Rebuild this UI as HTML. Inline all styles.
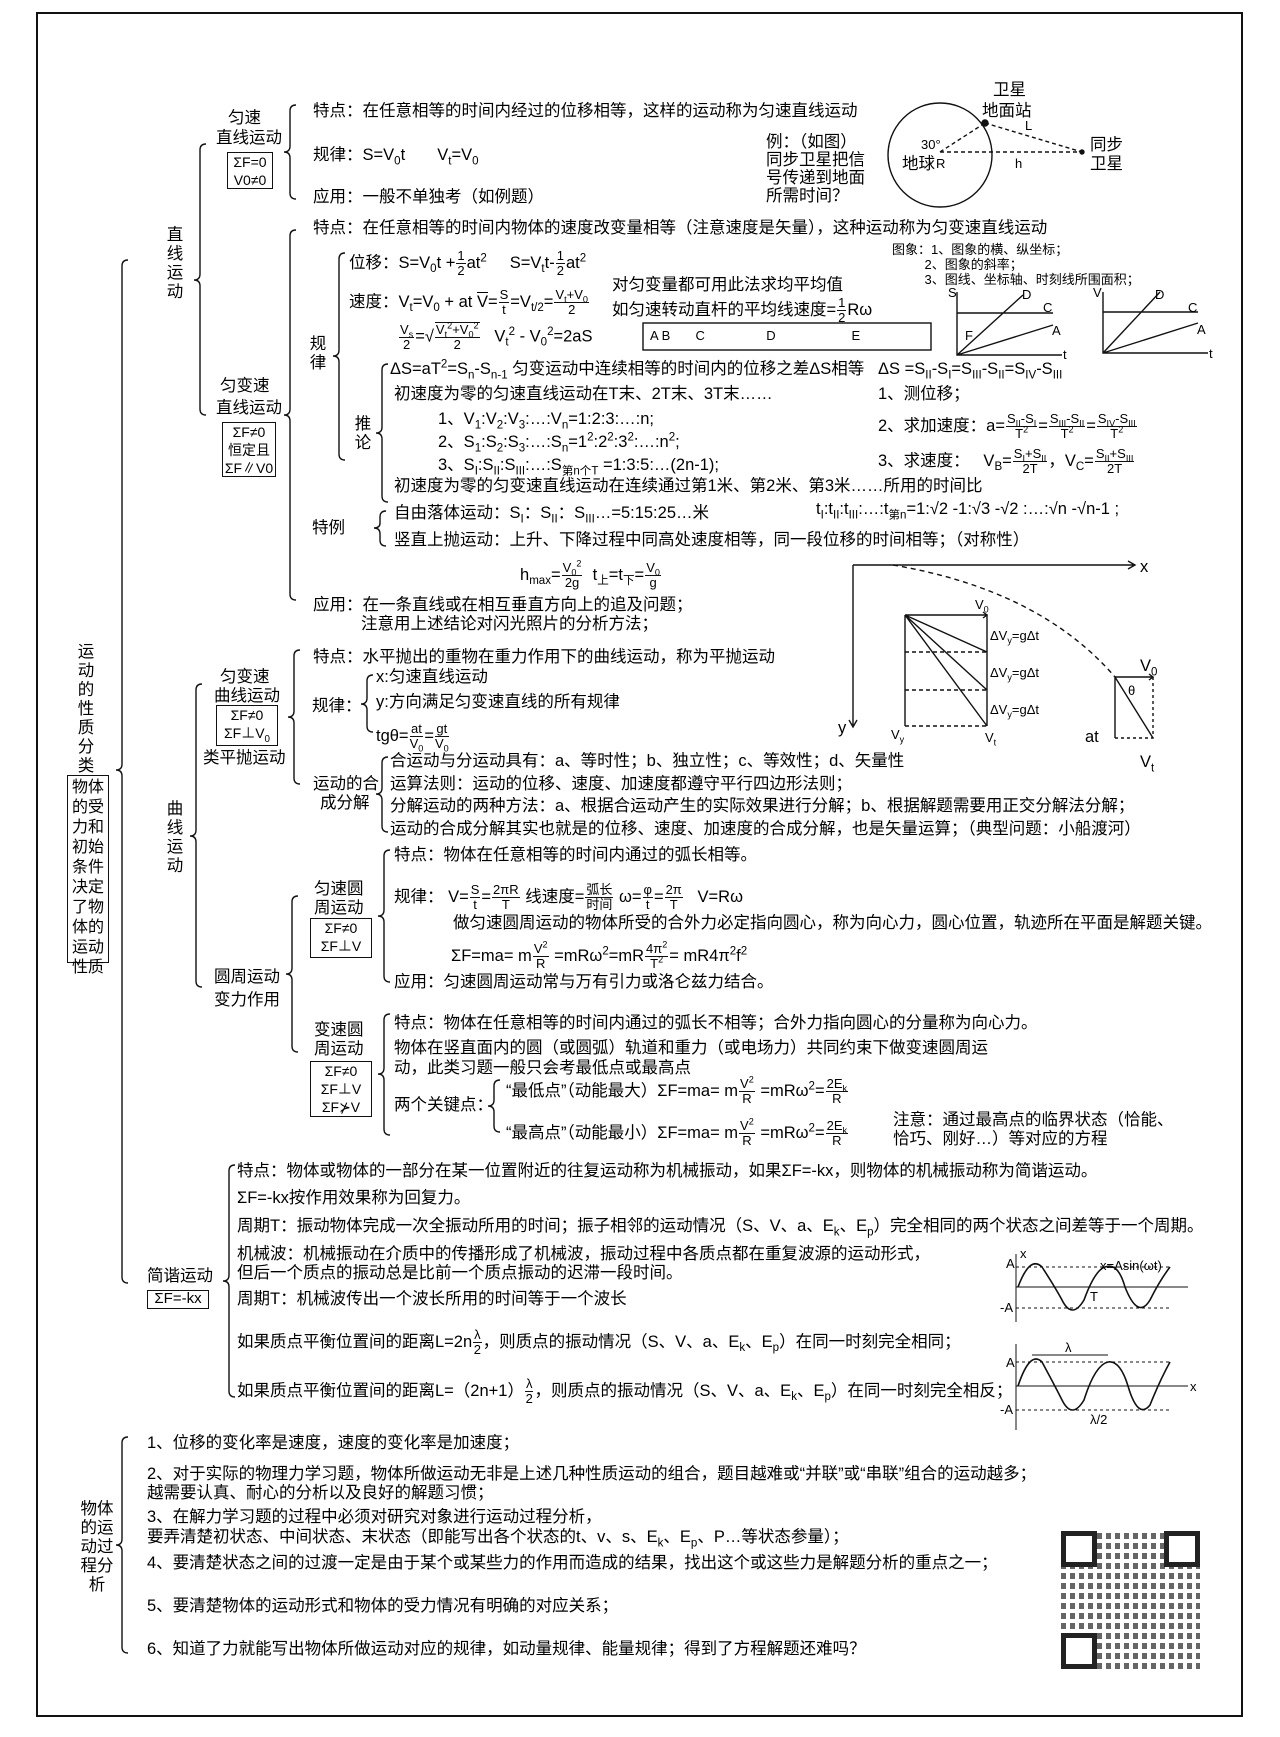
<!DOCTYPE html>
<html><head><meta charset="utf-8">
<style>
html,body{margin:0;padding:0;background:#fff;}
#p{position:relative;width:1280px;height:1737px;overflow:hidden;background:#fff;font-family:"Liberation Sans","Noto Sans CJK SC",sans-serif;color:#000;}
.t{position:absolute;white-space:nowrap;font-size:16.5px;line-height:20px;}
.s{font-size:13px;line-height:16px;}
sup,sub{line-height:0;font-size:70%;}
.v{position:absolute;font-size:16.5px;line-height:19px;width:18px;text-align:center;}
.box{position:absolute;border:1.5px solid #111;font-size:14px;line-height:18px;text-align:center;box-sizing:border-box;}
.fr{display:inline-flex;flex-direction:column;vertical-align:middle;text-align:center;font-size:13px;line-height:14px;margin:0 1px;}
.fr>span:first-child{border-bottom:1px solid #111;padding:0 1px;}
svg{position:absolute;left:0;top:0;}
</style></head><body><div id="p">
<svg width="1280" height="1737" fill="none" stroke="#111" stroke-width="1.4">
<path d="M37,13 H1242 V1716 H37 Z" stroke-width="2"/>
<g>
<path d="M128,260 Q122,260 122,266 L122,764 Q122,770 116,770 Q122,770 122,776 L122,1277 Q122,1283 128,1283"/>
<path d="M206,144 Q200,144 200,150 L200,274 Q200,280 194,280 Q200,280 200,286 L200,409 Q200,415 206,415"/>
<path d="M296,105 Q290,105 290,111 L290,146 Q290,152 284,152 Q290,152 290,158 L290,193 Q290,199 296,199"/>
<path d="M296,230 Q290,230 290,236 L290,409 Q290,415 284,415 Q290,415 290,421 L290,594 Q290,600 296,600"/>
<path d="M345,253 Q339,253 339,259 L339,350 Q339,356 333,356 Q339,356 339,362 L339,454 Q339,460 345,460"/>
<path d="M388,364 Q382,364 382,370 L382,427 Q382,433 376,433 Q382,433 382,439 L382,496 Q382,502 388,502"/>
<path d="M386,511 Q380,511 380,517 L380,523 Q380,528 374,528 Q380,528 380,534 L380,540 Q380,546 386,546"/>
<path d="M202,684 Q196,684 196,690 L196,830 Q196,836 190,836 Q196,836 196,842 L196,981 Q196,987 202,987"/>
<path d="M300,650 Q294,650 294,656 L294,711 Q294,717 288,717 Q294,717 294,723 L294,778 Q294,784 300,784"/>
<path d="M373,675 Q367,675 367,681 L367,698 Q367,704 361,704 Q367,704 367,710 L367,726 Q367,732 373,732"/>
<path d="M388,757 Q382,757 382,763 L382,788 Q382,794 376,794 Q382,794 382,800 L382,826 Q382,832 388,832"/>
<path d="M298,896 Q292,896 292,902 L292,968 Q292,974 286,974 Q292,974 292,980 L292,1046 Q292,1052 298,1052"/>
<path d="M390,850 Q384,850 384,856 L384,910 Q384,916 378,916 Q384,916 384,922 L384,976 Q384,982 390,982"/>
<path d="M390,1014 Q384,1014 384,1020 L384,1068 Q384,1074 378,1074 Q384,1074 384,1080 L384,1129 Q384,1135 390,1135"/>
<path d="M500,1080 Q494,1080 494,1086 L494,1100 Q494,1106 488,1106 Q494,1106 494,1112 L494,1126 Q494,1132 500,1132"/>
<path d="M235,1165 Q229,1165 229,1171 L229,1275 Q229,1281 223,1281 Q229,1281 229,1287 L229,1391 Q229,1397 235,1397"/>
<path d="M128,1437 Q122,1437 122,1443 L122,1539 Q122,1545 116,1545 Q122,1545 122,1551 L122,1647 Q122,1653 128,1653"/>
</g>
<circle cx="940" cy="155" r="52"/>
<path d="M940,152 H1082 M985,123 L1082,152 M940,152 L985,123" stroke-dasharray="4,3"/>
<circle cx="985" cy="123" r="3" fill="#111"/><circle cx="1082" cy="152" r="2" fill="#111"/>
<path d="M957,292 V355 H1062 M957,313 H1053 M957,355 L1023,295 M957,355 L1053,325"/>
<path d="M1103,292 V353 H1208 M1103,312 H1198 M1103,353 L1160,292 M1103,353 L1198,323"/>
<rect x="643" y="323" width="288" height="27"/>
<path d="M853,565 H1135 M1128,561 L1135,565 L1128,569 M853,565 V727 M849,720 L853,727 L857,720"/>
<path d="M893,565 Q1040,590 1115,677" stroke-dasharray="5,4"/>
<path d="M905,615 H987 V726 M905,615 V726 M905,615 L987,652 M905,615 L987,690 M905,615 L987,726 M983,612 L987,615 L983,618"/>
<path d="M905,652 H987 M905,690 H987 M905,726 H987" stroke-dasharray="4,3"/>
<path d="M1115,677 H1153 M1115,677 V738 M1115,677 L1153,738 M1149,674 L1153,677 L1149,680"/>
<path d="M1153,677 V738 H1115" stroke-dasharray="3,3"/>
<path d="M1016,1254 V1322 M1016,1287 H1188" stroke-width="1"/>
<path d="M1016,1267 H1170 M1016,1308 H1170" stroke-dasharray="3,3" stroke-width="1"/>
<path d="M1018,1287 Q1030,1255 1042,1267 Q1055,1287 1062,1300 Q1072,1320 1084,1300 Q1095,1270 1105,1267 Q1118,1262 1125,1287 Q1138,1320 1150,1300 Q1160,1280 1170,1267" stroke-width="1.6"/>
<path d="M1016,1344 V1430 M1016,1386 H1188 M1032,1355 H1108" stroke-width="1"/>
<path d="M1016,1362 H1170 M1016,1410 H1170" stroke-dasharray="3,3" stroke-width="1"/>
<path d="M1018,1386 Q1030,1350 1042,1362 Q1055,1386 1062,1400 Q1072,1420 1084,1400 Q1095,1365 1108,1362 Q1120,1360 1128,1386 Q1138,1420 1150,1405 Q1160,1380 1170,1362" stroke-width="1.6"/>
</svg>

<div style="position:absolute;left:1061px;top:1531px;width:139px;height:138px;background:repeating-linear-gradient(90deg,#333 0 5px,#fff 5px 9px),#fff;opacity:.75"></div>
<div style="position:absolute;left:1061px;top:1531px;width:139px;height:138px;background:repeating-linear-gradient(0deg,transparent 0 6px,#fff 6px 10px)"></div>
<div style="position:absolute;left:1061px;top:1531px;width:26px;height:26px;border:5px solid #222;background:#fff"></div>
<div style="position:absolute;left:1164px;top:1531px;width:26px;height:26px;border:5px solid #222;background:#fff"></div>
<div style="position:absolute;left:1061px;top:1633px;width:26px;height:26px;border:5px solid #222;background:#fff"></div>

<div class="v" style="left:77px;top:643px">运动的性质分类</div>
<div class="box" style="left:67px;top:775px;width:42px;height:188px;font-size:16px;line-height:20px;padding-top:2px">物体的受力和初始条件决定了物体的运动性质</div>
<div class="v" style="left:166px;top:226px">直线运动</div>
<div class="v" style="left:166px;top:800px">曲线运动</div>
<div class="v" style="left:79px;top:1500px;width:36px;line-height:19px">物体的运动过程分析</div>

<div class="t" style="left:228px;top:108px">匀速</div>
<div class="t" style="left:216px;top:128px">直线运动</div>
<div class="box" style="left:227px;top:152px;width:46px;height:37px">ΣF=0<br>V0≠0</div>
<div class="t" style="left:220px;top:376px">匀变速</div>
<div class="t" style="left:216px;top:398px">直线运动</div>
<div class="box" style="left:222px;top:422px;width:54px;height:55px">ΣF≠0<br>恒定且<br>ΣF∥V0</div>
<div class="v" style="left:309px;top:335px">规律</div>
<div class="v" style="left:354px;top:415px">推论</div>
<div class="t" style="left:312px;top:518px">特例</div>

<div class="t" style="left:220px;top:667px">匀变速</div>
<div class="t" style="left:214px;top:686px">曲线运动</div>
<div class="box" style="left:216px;top:705px;width:62px;height:41px">ΣF≠0<br>ΣF⊥V<sub>0</sub></div>
<div class="t" style="left:203px;top:748px">类平抛运动</div>
<div class="t" style="left:312px;top:696px">规律：</div>
<div class="t" style="left:313px;top:774px">运动的合</div>
<div class="t" style="left:320px;top:793px">成分解</div>
<div class="t" style="left:214px;top:967px">圆周运动</div>
<div class="t" style="left:214px;top:990px">变力作用</div>
<div class="t" style="left:314px;top:879px">匀速圆</div>
<div class="t" style="left:314px;top:898px">周运动</div>
<div class="box" style="left:310px;top:918px;width:62px;height:40px">ΣF≠0<br>ΣF⊥V</div>
<div class="t" style="left:314px;top:1020px">变速圆</div>
<div class="t" style="left:314px;top:1039px">周运动</div>
<div class="box" style="left:310px;top:1061px;width:62px;height:56px">ΣF≠0<br>ΣF⊥V<br>ΣF⊁V</div>
<div class="t" style="left:147px;top:1266px">简谐运动</div>
<div class="box" style="left:147px;top:1290px;width:62px;height:19px;font-size:15px;line-height:16px">ΣF=-kx</div>

<div class="t" style="left:313px;top:101px">特点：在任意相等的时间内经过的位移相等，这样的运动称为匀速直线运动</div>
<div class="t" style="left:313px;top:145px">规律：S=V<sub>0</sub>t &nbsp; &nbsp; &nbsp; V<sub>t</sub>=V<sub>0</sub></div>
<div class="t" style="left:313px;top:187px">应用：一般不单独考（如例题）</div>
<div class="t" style="left:766px;top:133px;line-height:18px">例：（如图）<br>同步卫星把信<br>号传递到地面<br>所需时间？</div>
<div class="t" style="left:993px;top:80px">卫星</div>
<div class="t" style="left:982px;top:101px">地面站</div>
<div class="t s" style="left:1025px;top:118px">L</div>
<div class="t s" style="left:921px;top:137px">30°</div>
<div class="t" style="left:902px;top:154px">地球</div>
<div class="t s" style="left:936px;top:156px">R</div>
<div class="t s" style="left:1015px;top:156px">h</div>
<div class="t" style="left:1090px;top:136px;line-height:19px">同步<br>卫星</div>

<div class="t" style="left:313px;top:218px">特点：在任意相等的时间内物体的速度改变量相等（注意速度是矢量），这种运动称为匀变速直线运动</div>
<div class="t s" style="left:892px;top:242px;line-height:15px">图象：1、图象的横、纵坐标；<br>&nbsp; &nbsp; &nbsp; &nbsp; &nbsp;2、图象的斜率；<br>&nbsp; &nbsp; &nbsp; &nbsp; &nbsp;3、图线、坐标轴、时刻线所围面积；</div>
<div class="t s" style="left:948px;top:285px">S</div><div class="t s" style="left:1022px;top:287px">D</div><div class="t s" style="left:1043px;top:300px">C</div><div class="t s" style="left:1052px;top:323px">A</div><div class="t s" style="left:1063px;top:347px">t</div>
<div class="t s" style="left:1093px;top:285px">V</div><div class="t s" style="left:1155px;top:287px">D</div><div class="t s" style="left:1188px;top:300px">C</div><div class="t s" style="left:1197px;top:322px">A</div><div class="t s" style="left:1209px;top:346px">t</div>
<div class="t" style="left:349px;top:249px">位移：S=V<sub>0</sub>t +<span class="fr"><span>1</span><span>2</span></span>at<sup>2</sup> &nbsp; &nbsp; S=V<sub>t</sub>t-<span class="fr"><span>1</span><span>2</span></span>at<sup>2</sup></div>
<div class="t" style="left:349px;top:288px">速度：V<sub>t</sub>=V<sub>0</sub> + at <span style="text-decoration:overline">V</span>=<span class="fr"><span>S</span><span>t</span></span>=V<sub>t/2</sub>=<span class="fr"><span>V<sub>t</sub>+V<sub>0</sub></span><span>2</span></span></div>
<div class="t" style="left:612px;top:275px;line-height:21px">对匀变量都可用此法求均平均值<br>如匀速转动直杆的平均线速度=<span class="fr"><span>1</span><span>2</span></span>Rω</div>
<div class="t" style="left:398px;top:322px"><span class="fr"><span>V<sub>s</sub></span><span>2</span></span>=√<span class="fr" style="border-top:1px solid #111"><span>V<sub>t</sub><sup>2</sup>+V<sub>0</sub><sup>2</sup></span><span>2</span></span> &nbsp; V<sub>t</sub><sup>2</sup> - V<sub>0</sub><sup>2</sup>=2aS</div>
<div class="t s" style="left:650px;top:328px">A B &nbsp; &nbsp; &nbsp; C &nbsp; &nbsp; &nbsp; &nbsp; &nbsp; &nbsp; &nbsp; &nbsp; D &nbsp; &nbsp; &nbsp; &nbsp; &nbsp; &nbsp; &nbsp; &nbsp; &nbsp; &nbsp; E &nbsp; &nbsp; &nbsp; &nbsp; &nbsp; &nbsp; &nbsp; &nbsp; &nbsp; &nbsp; &nbsp; &nbsp; &nbsp; &nbsp; F</div>
<div class="t" style="left:390px;top:359px">ΔS=aT<sup>2</sup>=S<sub>n</sub>-S<sub>n-1</sub> 匀变运动中连续相等的时间内的位移之差ΔS相等</div>
<div class="t" style="left:878px;top:359px">ΔS =S<sub>II</sub>-S<sub>I</sub>=S<sub>III</sub>-S<sub>II</sub>=S<sub>IV</sub>-S<sub>III</sub></div>
<div class="t" style="left:394px;top:384px">初速度为零的匀速直线运动在T末、2T末、3T末……</div>
<div class="t" style="left:438px;top:409px">1、V<sub>1</sub>:V<sub>2</sub>:V<sub>3</sub>:…:V<sub>n</sub>=1:2:3:…:n;</div>
<div class="t" style="left:438px;top:432px">2、S<sub>1</sub>:S<sub>2</sub>:S<sub>3</sub>:…:S<sub>n</sub>=1<sup>2</sup>:2<sup>2</sup>:3<sup>2</sup>:…:n<sup>2</sup>;</div>
<div class="t" style="left:438px;top:455px">3、S<sub>I</sub>:S<sub>II</sub>:S<sub>III</sub>:…:S<sub>第n个T</sub> =1:3:5:…(2n-1);</div>
<div class="t" style="left:394px;top:476px">初速度为零的匀变速直线运动在连续通过第1米、第2米、第3米……所用的时间比</div>
<div class="t" style="left:878px;top:384px">1、测位移；</div>
<div class="t" style="left:878px;top:412px">2、求加速度：a=<span class="fr"><span>S<sub>II</sub>-S<sub>I</sub></span><span>T<sup>2</sup></span></span>=<span class="fr"><span>S<sub>III</sub>-S<sub>II</sub></span><span>T<sup>2</sup></span></span>=<span class="fr"><span>S<sub>IV</sub>-S<sub>III</sub></span><span>T<sup>2</sup></span></span></div>
<div class="t" style="left:878px;top:447px">3、求速度： &nbsp; V<sub>B</sub>=<span class="fr"><span>S<sub>I</sub>+S<sub>II</sub></span><span>2T</span></span>，V<sub>C</sub>=<span class="fr"><span>S<sub>II</sub>+S<sub>III</sub></span><span>2T</span></span></div>
<div class="t" style="left:394px;top:503px">自由落体运动：S<sub>I</sub>：S<sub>II</sub>：S<sub>III</sub>…=5:15:25…米</div>
<div class="t" style="left:816px;top:499px">t<sub>I</sub>:t<sub>II</sub>:t<sub>III</sub>:…:t<sub>第n</sub>=1:√2 -1:√3 -√2 :…:√n -√n-1 ;</div>
<div class="t" style="left:394px;top:530px">竖直上抛运动：上升、下降过程中同高处速度相等，同一段位移的时间相等；（对称性）</div>
<div class="t" style="left:520px;top:561px">h<sub>max</sub>=<span class="fr"><span>V<sub>0</sub><sup>2</sup></span><span>2g</span></span> &nbsp;t<sub>上</sub>=t<sub>下</sub>=<span class="fr"><span>V<sub>0</sub></span><span>g</span></span></div>
<div class="t" style="left:313px;top:595px">应用：在一条直线或在相互垂直方向上的追及问题；</div>
<div class="t" style="left:361px;top:614px">注意用上述结论对闪光照片的分析方法；</div>

<div class="t" style="left:1140px;top:557px">x</div>
<div class="t s" style="left:975px;top:597px">V<sub>0</sub></div>
<div class="t s" style="left:990px;top:628px">ΔV<sub>y</sub>=gΔt</div>
<div class="t s" style="left:990px;top:665px">ΔV<sub>y</sub>=gΔt</div>
<div class="t s" style="left:990px;top:702px">ΔV<sub>y</sub>=gΔt</div>
<div class="t" style="left:838px;top:718px">y</div>
<div class="t s" style="left:891px;top:727px">V<sub>y</sub></div>
<div class="t s" style="left:985px;top:730px">V<sub>t</sub></div>
<div class="t" style="left:1140px;top:656px">V<sub>0</sub></div>
<div class="t s" style="left:1128px;top:683px">θ</div>
<div class="t" style="left:1085px;top:727px">at</div>
<div class="t" style="left:1140px;top:752px">V<sub>t</sub></div>

<div class="t" style="left:313px;top:647px">特点：水平抛出的重物在重力作用下的曲线运动，称为平抛运动</div>
<div class="t" style="left:376px;top:667px">x:匀速直线运动</div>
<div class="t" style="left:376px;top:692px">y:方向满足匀变速直线的所有规律</div>
<div class="t" style="left:376px;top:722px">tgθ=<span class="fr"><span>at</span><span>V<sub>0</sub></span></span>=<span class="fr"><span>gt</span><span>V<sub>0</sub></span></span></div>
<div class="t" style="left:390px;top:751px">合运动与分运动具有：a、等时性；b、独立性；c、等效性；d、矢量性</div>
<div class="t" style="left:390px;top:774px">运算法则：运动的位移、速度、加速度都遵守平行四边形法则；</div>
<div class="t" style="left:390px;top:796px">分解运动的两种方法：a、根据合运动产生的实际效果进行分解；b、根据解题需要用正交分解法分解；</div>
<div class="t" style="left:390px;top:819px">运动的合成分解其实也就是的位移、速度、加速度的合成分解，也是矢量运算；（典型问题：小船渡河）</div>

<div class="t" style="left:394px;top:845px">特点：物体在任意相等的时间内通过的弧长相等。</div>
<div class="t" style="left:394px;top:883px">规律： V=<span class="fr"><span>S</span><span>t</span></span>=<span class="fr"><span>2πR</span><span>T</span></span> 线速度=<span class="fr"><span>弧长</span><span>时间</span></span> ω=<span class="fr"><span>φ</span><span>t</span></span>=<span class="fr"><span>2π</span><span>T</span></span> &nbsp; V=Rω</div>
<div class="t" style="left:453px;top:913px">做匀速圆周运动的物体所受的合外力必定指向圆心，称为向心力，圆心位置，轨迹所在平面是解题关键。</div>
<div class="t" style="left:451px;top:942px">ΣF=ma= m<span class="fr"><span>V<sup>2</sup></span><span>R</span></span> =mRω<sup>2</sup>=mR<span class="fr"><span>4π<sup>2</sup></span><span>T<sup>2</sup></span></span>= mR4π<sup>2</sup>f<sup>2</sup></div>
<div class="t" style="left:394px;top:972px">应用：匀速圆周运动常与万有引力或洛仑兹力结合。</div>
<div class="t" style="left:394px;top:1013px">特点：物体在任意相等的时间内通过的弧长不相等；合外力指向圆心的分量称为向心力。</div>
<div class="t" style="left:394px;top:1038px">物体在竖直面内的圆（或圆弧）轨道和重力（或电场力）共同约束下做变速圆周运</div>
<div class="t" style="left:394px;top:1058px">动，此类习题一般只会考最低点或最高点</div>
<div class="t" style="left:394px;top:1095px">两个关键点：</div>
<div class="t" style="left:506px;top:1077px">“最低点”（动能最大）ΣF=ma= m<span class="fr"><span>V<sup>2</sup></span><span>R</span></span> =mRω<sup>2</sup>=<span class="fr"><span>2E<sub>k</sub></span><span>R</span></span></div>
<div class="t" style="left:506px;top:1119px">“最高点”（动能最小）ΣF=ma= m<span class="fr"><span>V<sup>2</sup></span><span>R</span></span> =mRω<sup>2</sup>=<span class="fr"><span>2E<sub>k</sub></span><span>R</span></span></div>
<div class="t" style="left:893px;top:1111px;line-height:19px">注意：通过最高点的临界状态（恰能、<br>恰巧、刚好…）等对应的方程</div>

<div class="t" style="left:237px;top:1161px">特点：物体或物体的一部分在某一位置附近的往复运动称为机械振动，如果ΣF=-kx，则物体的机械振动称为简谐运动。</div>
<div class="t" style="left:237px;top:1188px">ΣF=-kx按作用效果称为回复力。</div>
<div class="t" style="left:237px;top:1216px">周期T：振动物体完成一次全振动所用的时间；振子相邻的运动情况（S、V、a、E<sub>k</sub>、E<sub>p</sub>）完全相同的两个状态之间差等于一个周期。</div>
<div class="t" style="left:237px;top:1244px">机械波：机械振动在介质中的传播形成了机械波，振动过程中各质点都在重复波源的运动形式，</div>
<div class="t" style="left:237px;top:1263px">但后一个质点的振动总是比前一个质点振动的迟滞一段时间。</div>
<div class="t" style="left:237px;top:1289px">周期T：机械波传出一个波长所用的时间等于一个波长</div>
<div class="t" style="left:237px;top:1328px">如果质点平衡位置间的距离L=2n<span class="fr"><span>λ</span><span>2</span></span>，则质点的振动情况（S、V、a、E<sub>k</sub>、E<sub>p</sub>）在同一时刻完全相同；</div>
<div class="t" style="left:237px;top:1377px">如果质点平衡位置间的距离L=（2n+1）<span class="fr"><span>λ</span><span>2</span></span>，则质点的振动情况（S、V、a、E<sub>k</sub>、E<sub>p</sub>）在同一时刻完全相反；</div>
<div class="t s" style="left:1006px;top:1256px">A</div><div class="t s" style="left:1000px;top:1300px">-A</div><div class="t s" style="left:1100px;top:1258px">x=Asin(ωt)</div><div class="t s" style="left:1090px;top:1289px">T</div><div class="t s" style="left:1020px;top:1246px">x</div>
<div class="t s" style="left:1006px;top:1355px">A</div><div class="t s" style="left:1000px;top:1402px">-A</div><div class="t s" style="left:1065px;top:1340px">λ</div><div class="t s" style="left:1190px;top:1379px">x</div><div class="t s" style="left:1090px;top:1412px">λ/2</div>

<div class="t" style="left:147px;top:1433px">1、位移的变化率是速度，速度的变化率是加速度；</div>
<div class="t" style="left:147px;top:1464px">2、对于实际的物理力学习题，物体所做运动无非是上述几种性质运动的组合，题目越难或“并联”或“串联”组合的运动越多；</div>
<div class="t" style="left:147px;top:1483px">越需要认真、耐心的分析以及良好的解题习惯；</div>
<div class="t" style="left:147px;top:1507px">3、在解力学习题的过程中必须对研究对象进行运动过程分析，</div>
<div class="t" style="left:147px;top:1527px">要弄清楚初状态、中间状态、末状态（即能写出各个状态的t、v、s、E<sub>k</sub>、E<sub>p</sub>、P…等状态参量）；</div>
<div class="t" style="left:147px;top:1553px">4、要清楚状态之间的过渡一定是由于某个或某些力的作用而造成的结果，找出这个或这些力是解题分析的重点之一；</div>
<div class="t" style="left:147px;top:1596px">5、要清楚物体的运动形式和物体的受力情况有明确的对应关系；</div>
<div class="t" style="left:147px;top:1639px">6、知道了力就能写出物体所做运动对应的规律，如动量规律、能量规律；得到了方程解题还难吗？</div>
</div></body></html>
